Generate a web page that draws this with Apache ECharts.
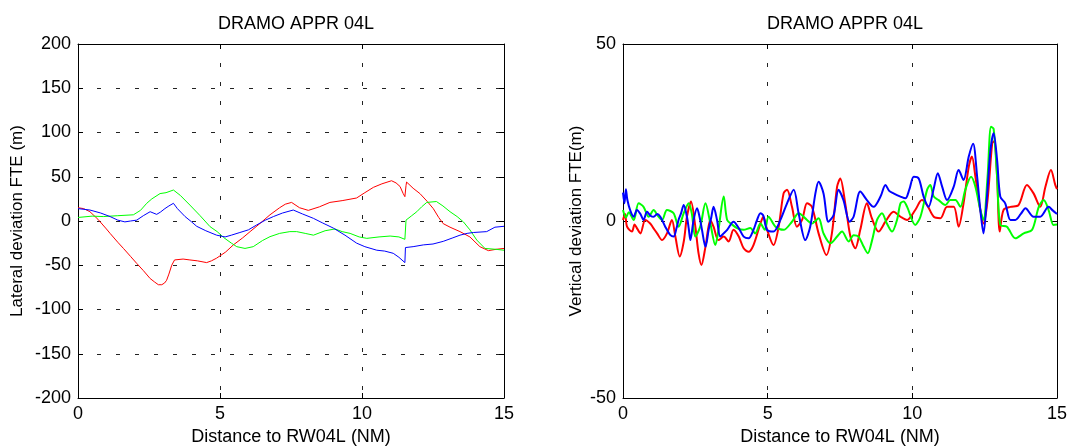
<!DOCTYPE html>
<html>
<head>
<meta charset="utf-8">
<script src="https://cdn.jsdelivr.net/npm/echarts@6/dist/echarts.min.js"></script>
<style>
html,body{margin:0;padding:0;background:#fff;}
#c{width:1069px;height:447px;}
</style>
</head>
<body>
<div id="c"></div>
<script>
// ---- data ----
const titleText = 'DRAMO APPR 04L';
const xName = 'Distance to RW04L (NM)';
const leftYName = 'Lateral deviation FTE (m)';
const rightYName = 'Vertical deviation FTE(m)';
const xTicks = [0, 5, 10, 15];
const leftYTicks = [-200, -150, -100, -50, 0, 50, 100, 150, 200];
const rightYTicks = [-50, 0, 50];

// left panel: lateral deviation [distance NM, deviation m]
const leftRed = [[0,15],[0.2,14],[0.42,10.5],[0.7,2],[1.0,-9],[1.13,-14],[1.4,-24],[1.6,-31],[1.85,-40],[2.07,-48],[2.3,-56],[2.54,-65],[2.7,-69],[2.83,-72],[2.95,-72],[3.05,-70],[3.12,-67],[3.2,-60],[3.3,-50],[3.4,-44],[3.47,-42],[3.7,-43],[3.94,-44],[4.2,-45],[4.53,-47],[4.7,-45],[4.88,-42],[5.2,-35],[5.47,-27],[5.8,-19],[6.06,-12],[6.4,-3],[6.76,7],[7.1,15],[7.3,19],[7.52,21],[7.8,15],[8.11,12],[8.5,16],[8.87,21],[9.3,23],[9.81,26],[10.1,32],[10.4,38],[10.7,42],[11.04,45.5],[11.2,43],[11.34,39],[11.45,31],[11.51,27.5],[11.55,40],[11.57,44],[11.8,37],[12.04,31],[12.3,22],[12.51,14],[12.7,4],[12.86,-3],[13.1,-7],[13.45,-12],[13.8,-18],[14.15,-29],[14.45,-33.5],[14.72,-32],[15,-31]];
const leftBlue = [[0,14],[0.42,12.4],[0.8,9],[1.13,5],[1.4,1],[1.65,-1],[1.85,0],[2.07,1],[2.3,6],[2.54,10.5],[2.77,7.5],[2.9,10],[3.06,14],[3.2,17],[3.36,20],[3.5,14],[3.77,5],[4.0,-1],[4.18,-6],[4.5,-11],[4.88,-16],[5.18,-18],[5.4,-16],[5.7,-13],[6.0,-10],[6.29,-4.5],[6.6,1],[6.88,5],[7.2,9],[7.58,12.4],[7.9,8],[8.29,3],[8.6,-2],[8.99,-8],[9.4,-16],[9.81,-25],[10.1,-29],[10.52,-33],[10.8,-34],[11.1,-36.5],[11.3,-41],[11.51,-47],[11.53,-30],[11.8,-29],[12.16,-27],[12.5,-26],[12.86,-23],[13.2,-19],[13.45,-16],[13.7,-14],[13.92,-13],[14.39,-12],[14.68,-7],[15,-6]];
const leftGreen = [[0,4],[0.5,5.5],[0.89,5],[1.4,6],[1.95,7],[2.2,12],[2.42,20],[2.6,25],[2.89,31],[3.1,32],[3.36,35],[3.6,29],[3.94,18],[4.3,6],[4.65,-6.4],[4.9,-12],[5.12,-18.5],[5.4,-25],[5.59,-29],[5.88,-31],[6.17,-29],[6.5,-22],[6.76,-17.7],[7.1,-14],[7.46,-12],[7.7,-12],[8.0,-14],[8.29,-16],[8.7,-11],[9.05,-9],[9.3,-12],[9.58,-14],[9.9,-18],[10.17,-19.6],[10.6,-18],[10.99,-17],[11.3,-18],[11.51,-20.7],[11.55,1],[11.75,6],[11.93,10.5],[12.1,16],[12.28,21],[12.62,22],[12.85,17],[13.1,10.5],[13.35,5],[13.57,-1],[13.8,-10],[14.04,-21.5],[14.33,-31],[14.72,-32],[15,-33]];

// right panel: vertical deviation [distance NM, deviation m]
const rightRed = [[0,0.3],[0.07,2],[0.14,-1.6],[0.31,-3],[0.4,-1],[0.48,-2],[0.6,-3.5],[0.77,0.3],[0.94,-0.7],[1.05,-2],[1.18,-3.5],[1.35,-5.4],[1.52,-3.5],[1.69,0.3],[1.81,-4.4],[1.96,-10],[2.1,-5.8],[2.21,1.2],[2.35,5.5],[2.5,-1.6],[2.61,-9.1],[2.71,-12.4],[2.85,-7.3],[3.02,0.3],[3.13,-1.6],[3.3,-5.4],[3.48,-4.4],[3.65,-5.8],[3.82,-2.5],[4.0,-4.4],[4.17,-7.7],[4.34,-8.7],[4.51,-6.8],[4.75,-0.7],[4.85,1.2],[4.98,-2.5],[5.2,-6.8],[5.38,-1.6],[5.55,7.8],[5.67,8.8],[5.84,4],[6.01,-1.6],[6.19,0.3],[6.36,5],[6.53,4],[6.76,-3.5],[7.03,-9.6],[7.22,-3.5],[7.4,9.7],[7.51,12],[7.68,5],[7.86,-4.4],[8.03,-7.7],[8.2,-2.5],[8.43,5],[8.6,0.8],[8.83,-3],[9.07,-0.2],[9.35,2.6],[9.59,1.2],[9.82,0.3],[10.1,3.1],[10.33,5.9],[10.51,4.5],[10.74,1.2],[10.97,0.8],[11.2,4],[11.43,4],[11.6,-1.6],[11.77,5],[11.95,15.3],[12.06,18.2],[12.18,12.5],[12.35,3.1],[12.46,-0.7],[12.6,5.9],[12.76,21.9],[12.83,22.5],[12.93,12.5],[13.02,-3],[13.15,3.1],[13.39,4],[13.67,4.5],[13.96,10.2],[14.19,7.8],[14.42,4],[14.6,9.7],[14.79,14.4],[14.94,10.2],[15,9]];
const rightGreen = [[0,3.1],[0.1,1],[0.2,2.5],[0.37,0.3],[0.54,5],[0.71,4],[0.89,1.2],[1.06,3.1],[1.2,1.5],[1.35,0.3],[1.52,3.1],[1.75,2.2],[1.92,-1.6],[2.1,2.2],[2.27,5],[2.38,2],[2.5,-4.4],[2.67,-1.6],[2.85,5],[3.02,-0.7],[3.19,-6.8],[3.3,-2.5],[3.48,6.9],[3.6,0.3],[3.77,-1],[3.94,-2],[4.17,-2.5],[4.4,-2],[4.57,-3.5],[4.75,-0.7],[4.9,-2.5],[5.03,1.2],[5.27,-1.6],[5.55,-2.5],[5.84,-0.2],[6.07,2.2],[6.36,0.3],[6.53,-0.7],[6.76,0.8],[6.93,-3.5],[7.17,-6.3],[7.4,-4.4],[7.57,-3],[7.8,-5.8],[7.97,-4],[8.14,-4.4],[8.32,-7.3],[8.46,-9.1],[8.61,-5.4],[8.78,0.3],[8.95,2.2],[9.12,-0.7],[9.3,-3],[9.47,0.3],[9.59,5],[9.7,5.5],[9.82,4],[10.1,-1.1],[10.28,1.2],[10.51,8.8],[10.62,10.2],[10.74,6.9],[10.91,5.9],[11.14,4.5],[11.31,5.9],[11.49,5.9],[11.66,4],[11.83,8.8],[12.03,12.5],[12.18,9.7],[12.35,3.1],[12.46,0.3],[12.6,12.5],[12.72,26.6],[12.81,26],[12.93,12.5],[13.04,-1.1],[13.27,-1.6],[13.56,-4.9],[13.85,-3.5],[14.14,-2.5],[14.37,4],[14.54,5.9],[14.71,3.1],[14.88,-1.1],[15,-1]];
const rightBlue = [[0,8],[0.05,5],[0.1,9],[0.15,6],[0.25,3],[0.37,1.2],[0.48,3.1],[0.6,2],[0.71,0.3],[0.83,2.6],[0.95,1.5],[1.06,1.2],[1.18,2],[1.29,1.2],[1.46,-1.6],[1.64,-4],[1.75,-4.4],[1.85,-2],[1.92,0.3],[2.0,2],[2.1,4.5],[2.21,1.2],[2.27,-2],[2.33,-5.4],[2.44,0.3],[2.56,3.6],[2.65,1],[2.73,-2.5],[2.85,-7.3],[2.96,-2.5],[3.05,1],[3.13,4],[3.25,0.3],[3.36,-4.4],[3.48,-3.5],[3.6,-2.5],[3.82,-0.2],[4.0,-2],[4.17,-4.4],[4.34,-4.9],[4.51,-2.5],[4.62,0],[4.75,2.2],[4.85,1.5],[4.98,-2.5],[5.2,-3],[5.44,0.3],[5.67,5],[5.9,8.8],[6.07,2.2],[6.3,-5.4],[6.47,-1.6],[6.65,7.8],[6.76,11.1],[6.93,7.8],[7.1,-0.2],[7.28,1.7],[7.45,8.8],[7.62,5.9],[7.83,-0.2],[7.97,1.2],[8.2,8.3],[8.43,5.9],[8.66,4],[8.9,6.9],[9.07,10.2],[9.2,8.5],[9.35,7.8],[9.59,6.9],[9.76,6.4],[9.9,9],[10.05,12.5],[10.22,12],[10.39,6.9],[10.56,4],[10.74,9.2],[10.88,13.5],[11.03,9.7],[11.2,5.9],[11.43,9.7],[11.6,14.4],[11.77,11.6],[11.95,18.2],[12.1,21.8],[12.24,12.5],[12.35,3.1],[12.46,-3.5],[12.58,6.9],[12.7,20],[12.81,24.8],[12.93,17.2],[13.04,6.9],[13.21,5],[13.39,0.3],[13.56,0.3],[13.75,2],[13.91,3.6],[14.19,1.2],[14.42,1.2],[14.71,4],[14.85,3],[15,2]];

// ---- chart ----
const FONT = '"Liberation Sans", Arial, sans-serif';
const FS = 18;
const FSV = 17;
const chart = echarts.init(document.getElementById('c'), null, {renderer: 'canvas'});
const gridDash = {show: true, lineStyle: {color: '#222', width: 1, type: [4, 15]}};

function xAx(gi, primary) {
  return {
    type: 'value', gridIndex: gi, min: xTicks[0], max: xTicks[xTicks.length - 1],
    interval: xTicks[1] - xTicks[0], position: primary ? 'bottom' : 'top',
    name: primary ? xName : '', nameLocation: 'middle', nameGap: 30,
    nameTextStyle: {color: '#000', fontFamily: FONT, fontSize: FS},
    axisLine: {show: true, onZero: false, lineStyle: {color: '#000', width: 1}},
    axisTick: {show: true, inside: true, length: 5, lineStyle: {color: '#000'}},
    axisLabel: {show: primary, color: '#000', fontFamily: FONT, fontSize: FS, margin: 7},
    splitLine: primary ? gridDash : {show: false}
  };
}
function yAx(gi, ticks, primary, name, gap) {
  return {
    type: 'value', gridIndex: gi, min: ticks[0], max: ticks[ticks.length - 1],
    interval: ticks[1] - ticks[0], position: primary ? 'left' : 'right',
    name: primary ? name : '', nameLocation: 'middle', nameGap: gap, nameRotate: 90,
    nameTextStyle: {color: '#000', fontFamily: FONT, fontSize: FSV},
    axisLine: {show: true, onZero: false, lineStyle: {color: '#000', width: 1}},
    axisTick: {show: true, inside: true, length: 5, lineStyle: {color: '#000'}},
    axisLabel: {show: primary, color: '#000', fontFamily: FONT, fontSize: FS, margin: 7},
    splitLine: primary ? gridDash : {show: false}
  };
}
function ser(xi, yi, data, color, w, sm) {
  return {type: 'line', xAxisIndex: xi, yAxisIndex: yi, data: data, showSymbol: false,
    symbol: 'none', smooth: sm, animation: false, lineStyle: {color: color, width: w}, z: 3};
}

chart.setOption({
  animation: false,
  backgroundColor: '#fff',
  title: [
    {text: titleText, left: 291, top: 10, textAlign: 'center',
     textStyle: {color: '#000', fontFamily: FONT, fontSize: FS, fontWeight: 'normal'}},
    {text: titleText, left: 840, top: 10, textAlign: 'center',
     textStyle: {color: '#000', fontFamily: FONT, fontSize: FS, fontWeight: 'normal'}}
  ],
  grid: [
    {left: 78, right: 565, top: 44, bottom: 49, containLabel: false, outerBoundsMode: 'none'},
    {left: 623, right: 12, top: 44, bottom: 49, containLabel: false, outerBoundsMode: 'none'}
  ],
  xAxis: [xAx(0, true), xAx(0, false), xAx(1, true), xAx(1, false)],
  yAxis: [yAx(0, leftYTicks, true, leftYName, 52), yAx(0, leftYTicks, false, '', 0),
          yAx(1, rightYTicks, true, rightYName, 38), yAx(1, rightYTicks, false, '', 0)],
  series: [
    ser(0, 0, leftRed, '#ff0000', 1, false),
    ser(0, 0, leftGreen, '#00ff00', 1, false),
    ser(0, 0, leftBlue, '#0000ff', 1, false),
    ser(2, 2, rightRed, '#ff0000', 2, 0.3),
    ser(2, 2, rightGreen, '#00ff00', 2, 0.3),
    ser(2, 2, rightBlue, '#0000ff', 2, 0.3)
  ]
});
</script>
</body>
</html>
